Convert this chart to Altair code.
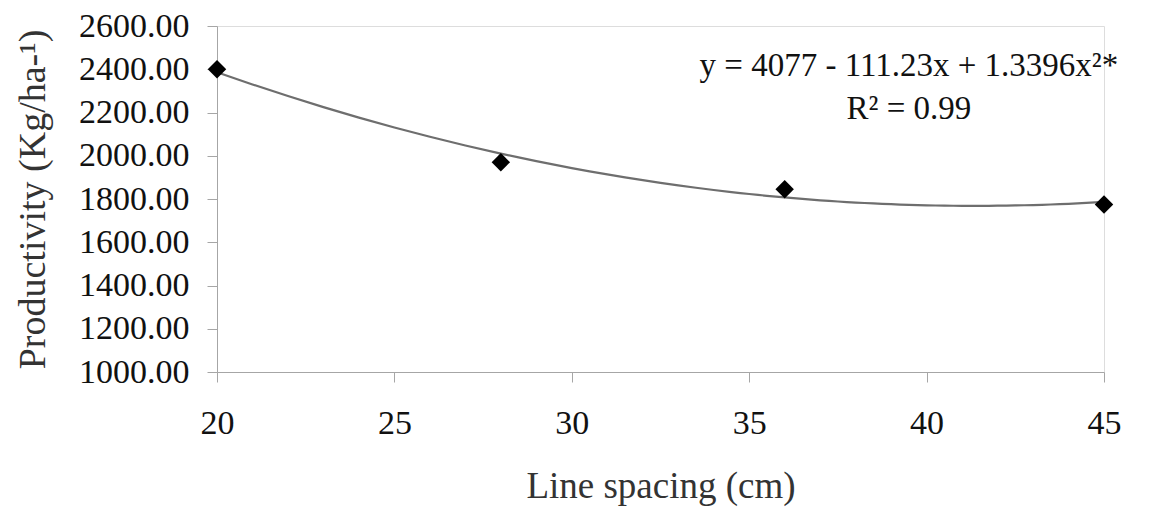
import altair as alt
import pandas as pd

spacing = [20, 28, 36, 45]
productivity = [2400, 1970, 1845, 1775]

eq_line1 = "y =  4077 - 111.23x + 1.3396x²*"
eq_line2 = "R² = 0.99"

df = pd.DataFrame({"x": spacing, "y": productivity})

FONT = "Liberation Serif"
AXIS_GRAY = "#a6a6a6"

xscale = alt.Scale(domain=[20, 45], nice=False, zero=False)
yscale = alt.Scale(domain=[1000, 2600], nice=False, zero=False)

xaxis = alt.Axis(
    title="Line spacing (cm)", values=[20, 25, 30, 35, 40, 45], format="d",
    grid=False, domainColor=AXIS_GRAY, tickColor=AXIS_GRAY, tickSize=10,
    labelFont=FONT, labelFontSize=34, labelColor="#111111", labelPadding=24,
    labelFlush=False,
    titleFont=FONT, titleFontSize=37, titleFontWeight="normal", titleColor="#333333",
    titlePadding=28,
)
yaxis = alt.Axis(
    title="Productivity (Kg/ha-¹)", values=[1000, 1200, 1400, 1600, 1800, 2000, 2200, 2400, 2600],
    format=".2f", grid=False, domainColor=AXIS_GRAY, tickColor=AXIS_GRAY, tickSize=10,
    labelFont=FONT, labelFontSize=34, labelColor="#111111", labelPadding=18,
    labelFlush=False,
    titleFont=FONT, titleFontSize=38, titleFontWeight="normal", titleColor="#333333",
    titlePadding=26,
)

base = alt.Chart(df)

curve = base.transform_regression(
    "x", "y", method="poly", order=2, extent=[20, 45]
).mark_line(color="#6e6e6e", strokeWidth=2.2).encode(
    x=alt.X("x:Q", scale=xscale, axis=xaxis),
    y=alt.Y("y:Q", scale=yscale, axis=yaxis),
)

points = base.mark_point(shape="diamond", filled=True, color="#000000", size=340, opacity=1).encode(
    x=alt.X("x:Q", scale=xscale),
    y=alt.Y("y:Q", scale=yscale),
)

label1 = alt.Chart().mark_text(font=FONT, fontSize=33, color="#111111", align="center", baseline="middle").encode(
    x=alt.datum(39.5), y=alt.datum(2416), text=alt.value(eq_line1)
)
label2 = alt.Chart().mark_text(font=FONT, fontSize=33, color="#111111", align="center", baseline="middle").encode(
    x=alt.datum(39.5), y=alt.datum(2214), text=alt.value(eq_line2)
)

chart = alt.layer(curve, points, label1, label2).properties(
    width=887, height=346,
    autosize=alt.AutoSizeParams(type="none"),
    padding={"left": 209, "top": 18, "right": 40, "bottom": 135},
).configure_view(stroke=None).configure(background="#ffffff")

chart.save("out.html", embed_options={"renderer": "svg", "actions": False})
